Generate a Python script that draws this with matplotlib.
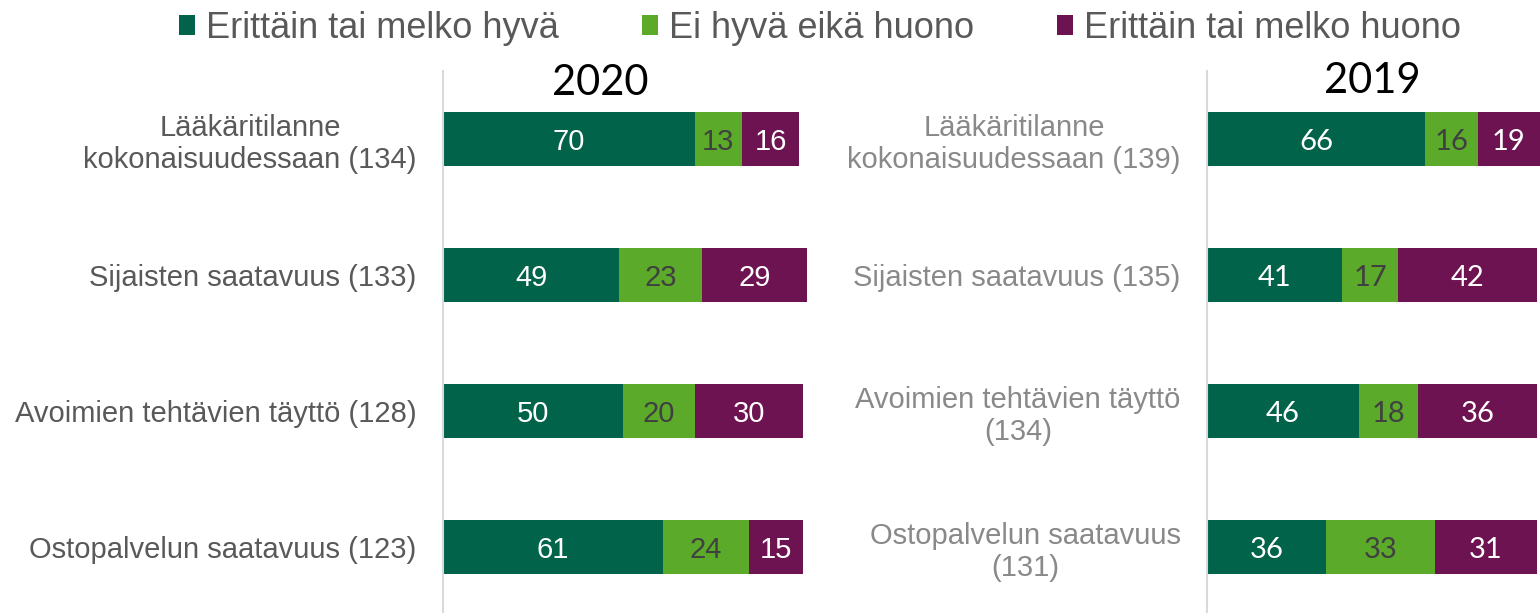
import matplotlib
matplotlib.use("Agg")
import matplotlib.pyplot as plt
from matplotlib.patches import Patch
from matplotlib.transforms import ScaledTranslation

plt.rcParams['font.family'] = ['Liberation Sans', 'DejaVu Sans']

series_names = ["Erittäin tai melko hyvä", "Ei hyvä eikä huono", "Erittäin tai melko huono"]
colors = ["#00634A", "#5BAA2A", "#6E1352"]
label_colors = ["white", "#404040", "white"]

cats_2020 = ["Lääkäritilanne\nkokonaisuudessaan (134)", "Sijaisten saatavuus (133)",
             "Avoimien tehtävien täyttö (128)", "Ostopalvelun saatavuus (123)"]
good_2020 = [70, 49, 50, 61]
neutral_2020 = [13, 23, 20, 24]
bad_2020 = [16, 29, 30, 15]

cats_2019 = ["Lääkäritilanne\nkokonaisuudessaan (139)", "Sijaisten saatavuus (135)",
             "Avoimien tehtävien täyttö\n(134)", "Ostopalvelun saatavuus\n(131)"]
good_2019 = [66, 41, 46, 36]
neutral_2019 = [16, 17, 18, 33]
bad_2019 = [19, 42, 36, 31]

W, H = 1540, 613
fig = plt.figure(figsize=(W / 100, H / 100), dpi=100)


def panel(x0, x1, cats, series, catcolor, valfont, valsize):
    ax = fig.add_axes([x0 / W, -2 / H, (x1 - x0) / W, 544 / H])
    shift = ax.transData + ScaledTranslation(0, -3 / 100, fig.dpi_scale_trans)
    y = list(range(len(cats)))
    left = [0] * len(cats)
    for vals, c, lc in zip(series, colors, label_colors):
        bars = ax.barh(y, vals, left=left, height=0.4, color=c, clip_on=False)
        for b, v in zip(bars, vals):
            ax.text(b.get_x() + b.get_width() / 2, b.get_y() + b.get_height() / 2, str(v),
                    ha='center', va='center', color=lc, fontsize=valsize,
                    family=valfont, clip_on=False, transform=shift)
        left = [l + v for l, v in zip(left, vals)]
    ax.set_xlim(0, 100)
    ax.set_ylim(len(cats) - 0.5, -0.5)
    ax.set_yticks(y)
    ax.set_yticklabels(cats, fontsize=21, color=catcolor)
    for lab in ax.get_yticklabels():
        lab.set_multialignment('center')
    ax.tick_params(axis='y', length=0, pad=19)
    ax.set_xticks([])
    for s in ['top', 'right', 'bottom']:
        ax.spines[s].set_visible(False)
    ax.spines['left'].set_color('#D9D9D9')
    ax.spines['left'].set_linewidth(1.5)
    ax.patch.set_alpha(0)
    return ax


panel(443, 803, cats_2020, [good_2020, neutral_2020, bad_2020], '#595959',
      ['Liberation Sans', 'DejaVu Sans'], 21)
panel(1207, 1537, cats_2019, [good_2019, neutral_2019, bad_2019], '#898989',
      ['Lato', 'DejaVu Sans'], 21)

fig.text(600 / W, 1 - 83 / H, "2020", ha='center', va='center', fontsize=30,
         family=['Lato', 'DejaVu Sans'], color='black')
fig.text(1372 / W, 1 - 81 / H, "2019", ha='center', va='center', fontsize=30,
         family=['Lato', 'DejaVu Sans'], color='black')

handles = [Patch(facecolor=c, edgecolor='none') for c in colors]
fig.legend(handles, series_names, loc='upper center', bbox_to_anchor=(820 / W, 1.035),
           ncol=3, frameon=False, fontsize=26, labelcolor='#595959',
           handlelength=0.45, handleheight=0.45, handletextpad=0.3, columnspacing=2.3)

fig.savefig("out.png", dpi=100)
